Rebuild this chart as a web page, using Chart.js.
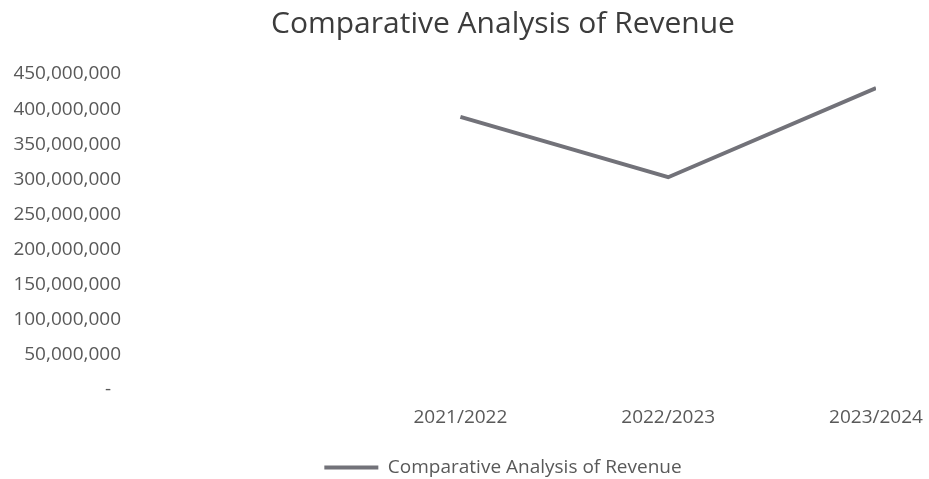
<!DOCTYPE html>
<html>
<head>
<meta charset="utf-8">
<script src="https://cdn.jsdelivr.net/npm/chart.js@4"></script>
<style>
  html, body { margin: 0; padding: 0; background: #fff; overflow: hidden; }
  canvas { display: block; }
</style>
</head>
<body>
<canvas id="revChart" width="929" height="479"></canvas>
<script>
// Revenue by financial year
const years = ['2021/2022', '2022/2023', '2023/2024'];
const revenue = [389000000, 303000000, 430000000];
const yTicks = [0, 50000000, 100000000, 150000000, 200000000, 250000000, 300000000, 350000000, 400000000, 450000000];

const seriesName = 'Comparative Analysis of Revenue';
const lineGrey = '#727279';
const textGrey = '#595959';
const font = "'Open Sans', 'Liberation Sans', sans-serif";

// years sit on a numeric axis so the empty space left of the first year is kept
const points = years.map((y, i) => ({ x: i, y: revenue[i] }));
const xMin = -1.59;

new Chart(document.getElementById('revChart'), {
    type: 'line',
    data: {
        datasets: [{
            label: seriesName,
            data: points,
            borderColor: lineGrey,
            backgroundColor: lineGrey,
            borderWidth: 4,
            pointRadius: 0,
            tension: 0
        }]
    },
    options: {
        responsive: false,
        animation: false,
        layout: { padding: { top: 6, right: 53, bottom: -8, left: 0 } },
        plugins: {
            title: {
                display: true,
                fullSize: false,
                text: seriesName,
                color: '#3c3c3c',
                font: { family: font, size: 30, weight: 'normal' },
                padding: { top: 0, bottom: 32 }
            },
            legend: {
                position: 'bottom',
                fullSize: false,
                labels: {
                    color: textGrey,
                    font: { family: font, size: 19 },
                    boxWidth: 54,
                    boxHeight: 0,
                    padding: 0
                }
            },
            tooltip: { enabled: false }
        },
        scales: {
            x: {
                type: 'linear',
                min: xMin,
                max: years.length - 1,
                grid: { display: false, drawTicks: false },
                border: { display: false },
                afterBuildTicks: (s) => { s.ticks = years.map((y, i) => ({ value: i })); },
                afterFit: (s) => {
                    s.height = 68;
                    // last label may hang into the right padding
                    s.paddingLeft = 0;
                    s.paddingRight = 0;
                },
                ticks: {
                    color: textGrey,
                    font: { family: font, size: 19 },
                    padding: 16,
                    maxRotation: 0,
                    callback: (v) => years[v]
                }
            },
            y: {
                min: 0,
                max: 450000000,
                grid: { display: false, drawTicks: false },
                border: { display: false },
                afterBuildTicks: (s) => { s.ticks = yTicks.map(v => ({ value: v })); },
                afterFit: (s) => { s.width = 130; },
                ticks: {
                    color: textGrey,
                    font: { family: font, size: 19 },
                    padding: 9,
                    callback: (v) => v === 0 ? '-  ' : v.toLocaleString('en-US')
                }
            }
        }
    }
});
</script>
</body>
</html>
